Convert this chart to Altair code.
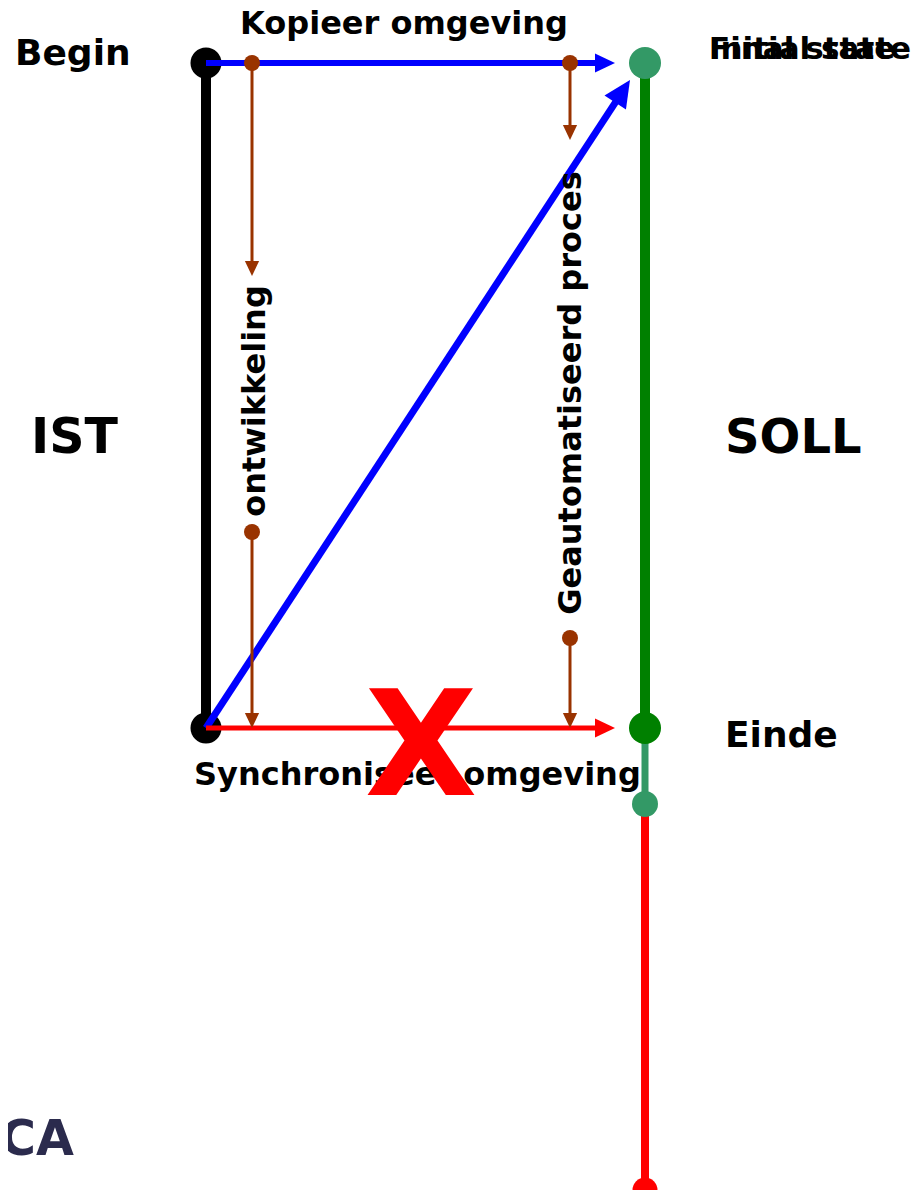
import altair as alt
import pandas as pd
import numpy as np

# ---- diagram data (diagram coordinates, y grows downward) ----
# vertical timelines
line_x1 = [206, 645, 645, 645]
line_y1 = [63, 63, 728, 804]
line_x2 = [206, 645, 645, 645]
line_y2 = [728, 728, 804, 1190]
line_color = ["#000000", "#008000", "#339966", "#ff0000"]
line_width = [10, 10, 7, 8]

# state nodes
node_x = [206, 206, 645, 645, 645, 645]
node_y = [63, 728, 63, 728, 804, 1190]
node_d = [31, 31, 32, 32, 26, 25]
node_color = ["#000000", "#000000", "#339966", "#008000", "#339966", "#ff0000"]

# arrows (tail -> tip)
arr_x1 = [206, 206, 206, 252, 252, 570, 570]
arr_y1 = [63, 728, 728, 63, 532, 63, 638]
arr_x2 = [615, 630, 615, 252, 252, 570, 570]
arr_y2 = [63, 80, 728, 276, 728, 140, 728]
arr_color = ["#0000ff", "#0000ff", "#ff0000", "#993300", "#993300", "#993300", "#993300"]
arr_width = [6, 7, 5, 3, 3, 3, 3]
arr_head = [20, 27, 20, 15, 15, 15, 15]
arr_dot = [0, 0, 0, 16, 16, 16, 16]

# labels
lab_text = ["Begin", "IST", "SOLL", "Einde", "Synchroniseer omgeving",
            "Final state", "Initial state", "CA"]
lab_x = [15, 31, 725, 725, 194, 709, 709, 0]
lab_y = [65, 453, 453, 747, 785, 59, 59, 1155]
lab_size = [36, 49, 48, 36, 32, 31, 31, 49]
lab_color = ["#000000"] * 7 + ["#2b2b4d"]

clab_text = ["Kopieer omgeving", "ontwikkeling", "Geautomatiseerd proces"]
clab_x = [404, 265, 581]
clab_y = [34, 401, 393]
clab_angle = [0, 270, 270]

cross_text = ["X"]
cross_x = [421]
cross_y = [795]

# ---- build tables ----
lines = pd.DataFrame(dict(x=line_x1, y=line_y1, x2=line_x2, y2=line_y2,
                          c=line_color, w=line_width))
nodes = pd.DataFrame(dict(x=node_x, y=node_y, s=np.array(node_d) ** 2, c=node_color))

arr = pd.DataFrame(dict(x1=arr_x1, y1=arr_y1, x2=arr_x2, y2=arr_y2,
                        c=arr_color, w=arr_width, L=arr_head, d=arr_dot))
dx = arr.x2 - arr.x1
dy = arr.y2 - arr.y1
ln = np.hypot(dx, dy)
arr["ex"] = arr.x2 - dx / ln * arr.L * 0.9
arr["ey"] = arr.y2 - dy / ln * arr.L * 0.9
arr["ang"] = np.degrees(np.arctan2(dy, dx)) % 360
arr["hs"] = arr.L ** 2
arr["ds"] = arr.d ** 2
dots = arr[arr.d > 0]

labels = pd.DataFrame(dict(t=lab_text, x=lab_x, y=lab_y, s=lab_size, c=lab_color))
clabels = pd.DataFrame(dict(t=clab_text, x=clab_x, y=clab_y, a=clab_angle))
cross = pd.DataFrame(dict(t=cross_text, x=cross_x, y=cross_y))

W, H = 908, 1182
XDOM = [8, 8 + W]
YDOM = [8, 8 + H]


def xq(f):
    return alt.X(f"{f}:Q", scale=alt.Scale(domain=XDOM, nice=False, zero=False), axis=None)


def yq(f):
    return alt.Y(f"{f}:Q", scale=alt.Scale(domain=YDOM, nice=False, zero=False, reverse=True),
                 axis=None)


X = xq("x")
Y = yq("y")
FONT = "DejaVu Sans"

l_lines = alt.Chart(lines).mark_rule().encode(
    x=X, y=Y, x2="x2:Q", y2="y2:Q",
    color=alt.Color("c:N", scale=None),
    strokeWidth=alt.StrokeWidth("w:Q", scale=None),
)

l_nodes = alt.Chart(nodes).mark_point(filled=True, shape="circle", opacity=1, strokeWidth=0).encode(
    x=X, y=Y, size=alt.Size("s:Q", scale=None), color=alt.Color("c:N", scale=None)
)

l_shafts = alt.Chart(arr).mark_rule().encode(
    x=xq("x1"), y=yq("y1"), x2="ex:Q", y2="ey:Q",
    color=alt.Color("c:N", scale=None),
    strokeWidth=alt.StrokeWidth("w:Q", scale=None),
)

l_heads = alt.Chart(arr).mark_point(filled=True, shape="M0,0 L-2,-0.95 L-2,0.95 Z",
                                    opacity=1, strokeWidth=0).encode(
    x=xq("x2"), y=yq("y2"),
    size=alt.Size("hs:Q", scale=None),
    angle=alt.Angle("ang:Q", scale=None),
    color=alt.Color("c:N", scale=None),
)

l_dots = alt.Chart(dots).mark_point(filled=True, shape="circle", opacity=1, strokeWidth=0).encode(
    x=xq("x1"), y=yq("y1"),
    size=alt.Size("ds:Q", scale=None),
    color=alt.Color("c:N", scale=None),
)

l_labels = alt.Chart(labels).mark_text(align="left", baseline="alphabetic",
                                       font=FONT, fontWeight="bold").encode(
    x=X, y=Y, text="t:N",
    size=alt.Size("s:Q", scale=None),
    color=alt.Color("c:N", scale=None),
)

l_clabels = alt.Chart(clabels).mark_text(align="center", baseline="alphabetic",
                                         font=FONT, fontWeight="bold", fontSize=32,
                                         color="#000000").encode(
    x=X, y=Y, text="t:N",
    angle=alt.Angle("a:Q", scale=None),
)

l_cross = alt.Chart(cross).mark_text(align="center", baseline="alphabetic",
                                     font=FONT, fontWeight="bold", fontSize=146,
                                     color="#ff0000").encode(
    x=X, y=Y, text="t:N"
)

chart = alt.layer(
    l_lines, l_nodes, l_shafts, l_heads, l_dots, l_labels, l_clabels, l_cross
).properties(
    width=W, height=H, padding=0,
    autosize=alt.AutoSizeParams(type="none"),
).configure_view(strokeWidth=0)

chart.save("out.html", embed_options={"renderer": "svg", "actions": False})
